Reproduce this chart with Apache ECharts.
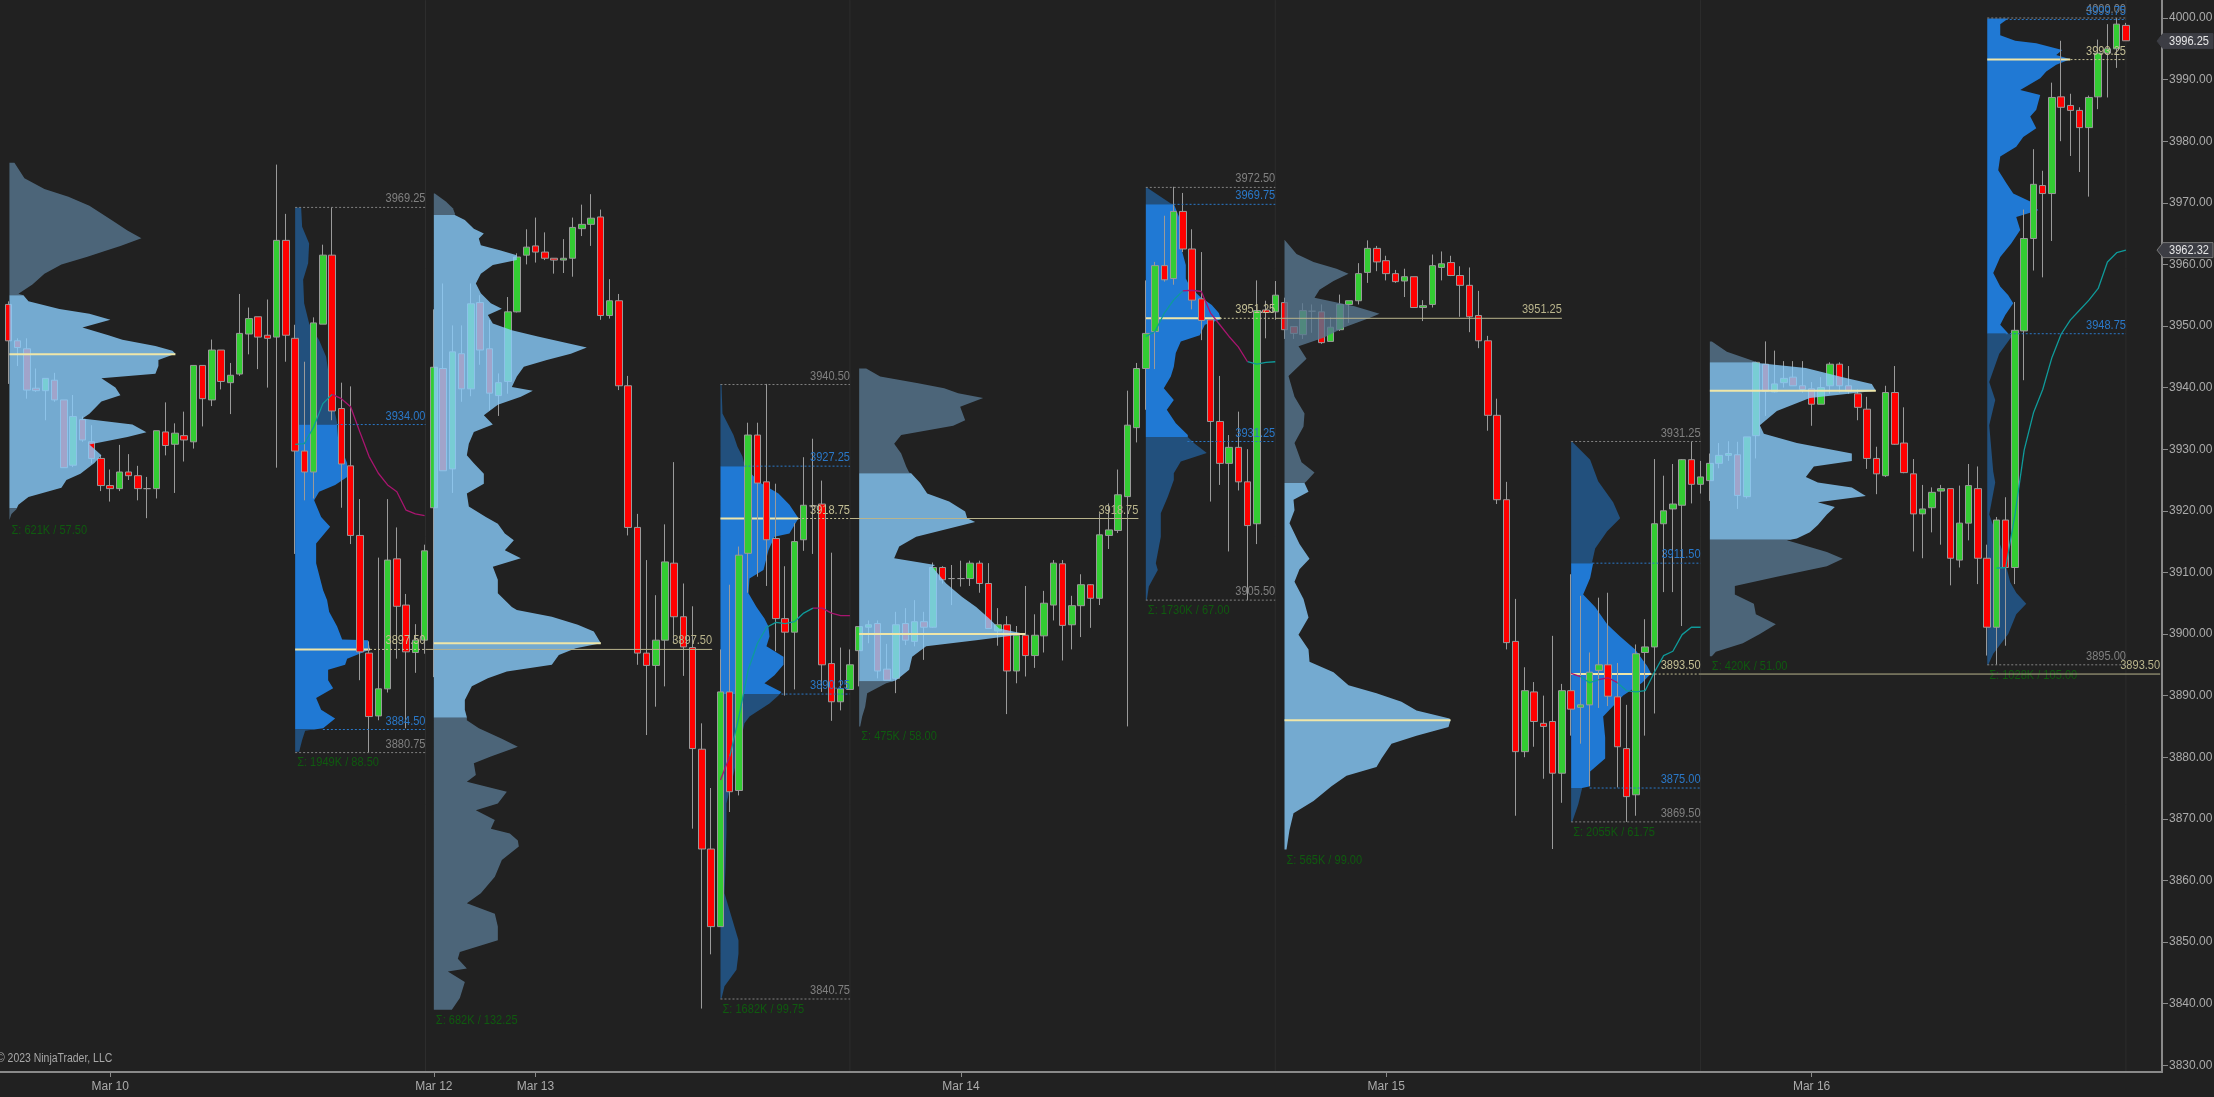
<!DOCTYPE html>
<html><head><meta charset="utf-8">
<style>html,body{margin:0;padding:0;background:#212121;overflow:hidden}#c{width:2214px;height:1097px}</style>
<script src="https://cdn.jsdelivr.net/npm/echarts@6/dist/echarts.min.js"></script>
</head><body><div id="c"></div>
<script>
// [open, close, low, high] one row per bar
const ohlc = [
[3953.5,3947.6,3940.6,3954],[3947.6,3946.5,3943.5,3948],[3946.3,3939.6,3938.2,3948],[3939.9,3939.5,3939.3,3943.1],[3939.5,3941.5,3934.7,3941.5],
[3941.2,3938,3937.7,3942.4],[3938,3927,3927,3938],[3927.4,3935.3,3927.1,3938.8],[3934.8,3931.5,3931.2,3935.3],[3931.2,3928.5,3927.7,3933.9],
[3928.5,3924.1,3923.2,3929],[3924.1,3923.6,3921.5,3926.7],[3923.6,3926.3,3923.2,3930.7],[3926.3,3925.7,3925,3929.2],[3925.7,3923.6,3921.7,3927.3],
[3923.6,3923.6,3918.8,3925.5],[3923.6,3933,3922,3933],[3932.8,3930.6,3929,3937.6],[3930.8,3932.6,3922.9,3934.2],[3932.2,3931.5,3928,3936.1],
[3931.2,3943.6,3930.1,3943.6],[3943.6,3938.2,3933.7,3943.6],[3938,3946.1,3937,3947.8],[3946.1,3941,3939.7,3946.1],[3940.8,3942,3935.7,3944],
[3942.2,3948.8,3941.9,3955.2],[3948.7,3951.2,3945.4,3953],[3951.5,3948.2,3943,3951.5],[3948.5,3948,3940,3954.3],[3948.2,3963.9,3927,3976.2],
[3963.9,3948.5,3944.2,3968.2],[3948,3929.7,3913,3950.2],[3929.7,3926.3,3921.7,3944.2],[3926.3,3950.5,3922,3951.4],[3950.3,3961.5,3950.3,3963.2],
[3961.5,3936.2,3934.7,3969.25],[3936.6,3927.6,3920.5,3940.8],[3927.3,3916,3914.6,3940.2],[3916,3897.1,3892.5,3921.9],[3896.9,3886.6,3880.75,3898.8],
[3886.7,3891.1,3886,3912.4],[3891.1,3912,3890.5,3921.9],[3912.2,3904.5,3896,3917.3],[3904.7,3897.1,3884.7,3906.5],[3897,3899,3893.7,3901.6],
[3899,3913.5,3896.8,3914.5],[3920.5,3943.3,3893,3952.7],[3943.1,3926.5,3926.5,3956.9],[3926.8,3945.8,3922.9,3950.1],[3945.5,3939.8,3937.7,3950.1],
[3939.8,3953.6,3938.6,3956.9],[3953.8,3946.1,3943.7,3955],[3946.3,3939.1,3936.3,3951],[3938.7,3940.8,3935.4,3942.3],[3941,3952.3,3939,3954.7],
[3952.3,3961.2,3952.2,3961.8],[3961.5,3962.8,3960,3965.7],[3963,3962,3960.3,3967.6],[3962,3961,3960.7,3965.2],[3961,3960.7,3958.5,3961],
[3960.7,3961,3958.6,3964.1],[3961,3966,3958,3967.6],[3965.8,3966.5,3964.6,3969.7],[3966.5,3967.5,3963,3971.4],[3967.7,3951.7,3951,3968.9],
[3951.7,3954.1,3951.2,3957.6],[3954.1,3940.3,3939.6,3955.2],[3940.3,3917.3,3916,3941.9],[3917.3,3896.9,3895,3919.5],[3896.9,3894.9,3883.6,3912],
[3894.9,3899,3888.2,3906.3],[3899,3911.7,3891.5,3917.8],[3911.5,3902.8,3898.5,3927.9],[3902.8,3897.9,3893.2,3908.2],[3897.8,3881.4,3868.4,3904.5],
[3881.3,3865.1,3839.2,3885.5],[3865.1,3852.5,3848,3875],[3852.5,3890.6,3852.5,3897.5],[3890.6,3874.4,3871.1,3908],[3874.6,3912.8,3873.8,3914.2],
[3913.1,3932.3,3906.7,3934.3],[3932.3,3924.5,3909.3,3934.3],[3924.7,3915.3,3907.8,3940.6],[3915.5,3902.5,3897.2,3924.4],[3902.5,3900.3,3890,3911],
[3900.3,3915,3891,3918],[3915.3,3920.9,3913.5,3928.7],[3920.8,3920.8,3913,3931.7],[3921.1,3895,3890.6,3924.9],[3895.2,3889,3885.9,3913.2],
[3889,3891.1,3887.6,3897.8],[3891,3895,3891,3897.5],[3897.3,3901.2,3891.5,3901.2],[3901.1,3901.5,3898.5,3902.2],[3901.7,3894,3892.8,3902.2],
[3894.3,3892.5,3892.5,3898.4],[3892.8,3901.5,3890.4,3903.6],[3901.7,3899,3898.2,3904.2],[3898.8,3902,3898,3905.5],[3902,3901.1,3895.8,3903.6],
[3901.1,3910.8,3901,3911.6],[3910.8,3908.8,3908.2,3911],[3909,3909,3904.7,3911.2],[3909,3909,3907.7,3911.9],[3909,3911.5,3907.8,3911.9],
[3911.5,3908.2,3906.7,3911.9],[3908.2,3900.9,3900.9,3911.5],[3900.5,3901.5,3898.1,3904.2],[3901.5,3894,3887,3902.9],[3894,3899.8,3892,3901.3],
[3899.8,3896.5,3893.1,3907.8],[3896.5,3899.8,3894.5,3903.2],[3899.7,3905,3897,3907],[3904.7,3911.5,3902.2,3912],[3911.4,3901.4,3895.7,3912],
[3901.5,3904.6,3897.5,3906.2],[3904.6,3908,3899.5,3909.7],[3908,3905.8,3901,3908.1],[3905.8,3916.1,3904.7,3919.6],[3916,3916.9,3913.8,3921.2],
[3916.8,3922.6,3916.4,3926.7],[3922.3,3933.9,3885,3939.5],[3933.5,3943.1,3931.1,3944],[3943.1,3948.8,3936.4,3957.4],[3949.1,3959.8,3943,3960.4],
[3959.8,3957.5,3957.2,3967.9],[3957.7,3968.6,3956.7,3972.6],[3968.6,3962.5,3962,3971.6],[3962.5,3954.2,3952.7,3965.7],[3954.4,3950.9,3947.7,3962],
[3951,3934.5,3921.5,3951],[3934.5,3927.7,3924.2,3941.9],[3927.7,3930.3,3913.4,3932.3],[3930.3,3924.7,3923.3,3936.1],[3924.7,3917.6,3905.5,3930],
[3917.9,3952.5,3914.6,3957.4],[3952.6,3952.2,3948,3954.1],[3952.3,3955,3951,3957.3],[3953.8,3949.4,3947.9,3954.6],[3949.9,3948.8,3947.9,3949.9],
[3948.6,3952.5,3947.9,3953.7],[3952.4,3952.4,3948.9,3953.5],[3952.3,3947.3,3947.1,3953.5],[3947.5,3949.8,3947.5,3951.4],[3949.4,3953.5,3949.2,3955.1],
[3953.5,3954.1,3950.5,3954.1],[3954.1,3958.5,3953.5,3960.2],[3958.7,3962.6,3957,3963.9],[3962.6,3960.4,3958.9,3963],[3960.6,3958.5,3957.4,3961.4],
[3958.5,3957.2,3957,3959.1],[3957.3,3958,3954.7,3959.3],[3958,3953,3953,3958],[3953,3953.3,3950.8,3954.2],[3953.5,3959.8,3953,3961.6],
[3959.5,3960.1,3957.4,3962.1],[3960.3,3958.2,3958.1,3961.4],[3958.2,3956.6,3951.5,3959.7],[3956.6,3951.5,3949,3959.5],[3951.7,3947.6,3946.4,3955.7],
[3947.6,3935.5,3933,3948.4],[3935.5,3921.8,3921.1,3938.2],[3921.8,3898.6,3897.5,3924.7],[3898.8,3880.9,3870.5,3905.7],[3880.9,3890.8,3880,3894.6],
[3890.6,3885.8,3881.7,3892.2],[3885.5,3885,3876.5,3890],[3885.8,3877.4,3865.1,3899.7],[3877.4,3890.8,3872.6,3891.9],[3890.8,3887.8,3883.5,3909.7],
[3888.1,3888.5,3882.2,3906.2],[3888.5,3893.8,3875.3,3897],[3894.1,3895,3888,3905.9],[3895,3889.9,3888.3,3906.7],[3889.8,3881.7,3875.1,3895.3],
[3881.4,3873.6,3869.5,3888.5],[3873.9,3896.8,3870.5,3898.3],[3897,3897.9,3883.5,3902.4],[3897.9,3917.9,3887.1,3928.4],[3917.9,3920,3906.8,3925.7],
[3920.3,3921.1,3906.8,3927.6],[3920.9,3928.3,3901.3,3928.4],[3928.3,3924.3,3921.2,3931.2],[3924.3,3925.5,3922.8,3928.1],[3924.9,3927.7,3921.6,3929.3],
[3927.7,3929,3926.9,3931],[3929,3929.3,3928.1,3931.3],[3929.1,3922.5,3920.3,3931.2],[3922.3,3932,3922,3932],[3932.2,3944.1,3928.5,3944.2],
[3943.8,3939.4,3935.4,3947.5],[3939.3,3940.6,3939.2,3946],[3940.8,3941.5,3940,3944.3],[3941.7,3940.3,3940.3,3944.3],[3940.3,3939.7,3939.2,3944.3],
[3939.8,3937.3,3933.8,3940.9],[3937.3,3940,3937.3,3941.7],[3940.3,3943.8,3939,3944.1],[3943.8,3940.3,3939.2,3944.1],[3940.3,3939.4,3939,3943.5],
[3939,3936.8,3934.7,3939.7],[3936.5,3928.5,3926.8,3938.5],[3928.5,3926,3922.7,3930.4],[3925.7,3939.2,3925.5,3940.3],[3939.2,3930.8,3930.7,3943.5],
[3931,3926.2,3926.1,3936.8],[3926,3919.5,3913.4,3928.4],[3919.5,3920.3,3912.3,3924.2],[3920.5,3923,3916.5,3923.8],[3923.2,3923.6,3914.5,3924.2],
[3923.6,3912.3,3907.9,3923.6],[3912,3918,3910.8,3924.1],[3918,3924.1,3915.2,3927.6],[3923.6,3912.3,3908.1,3927.2],[3912.3,3901.1,3896.5,3914.5],
[3901.1,3918.5,3895,3919],[3918.5,3910.8,3898.1,3922.2],[3910.8,3949.3,3908.1,3953.9],[3949.2,3964.2,3941.2,3968.9],[3964.2,3973,3959,3978.7],
[3972.8,3971.5,3957.9,3975.2],[3971.5,3987.1,3963.8,3989.5],[3987.2,3985.5,3980,3996.3],[3985.8,3985,3977.6,3987.7],[3985,3982.2,3975,3985.5],
[3982.2,3987.1,3971,3987.4],[3987.2,3994.3,3985.2,3996.5],[3994.3,3995,3987.1,3999],[3995,3999,3991.9,4000],[3998.8,3996.3,3996.3,3999.2]
];

const dateTicks = [11,46,57,103,149,195];
const dateLabels = ['Mar 10','Mar 12','Mar 13','Mar 14','Mar 15','Mar 16'];
const priceTicks = [3830,3840,3850,3860,3870,3880,3890,3900,3910,3920,3930,3940,3950,3960,3970,3980,3990,4000];
const sessionBreaks = [45.1,91,137,183,229];

// volume profiles: [price, volume]
const profA = [[3976.5,5],[3974,15],[3972.25,35],[3971,59],[3969.5,80],[3968.25,92],[3967,104],[3965.5,118],[3964.25,132],[3963,111],[3962.25,97],[3961.25,78],[3960,52],[3958.5,35],[3956.75,23],[3955.25,9],[3955,14],[3954,19],[3952.75,50],[3952,80],[3951,101],[3949.75,73],[3948.5,99],[3947.75,113],[3946.75,146],[3946,163],[3945.5,166],[3944.5,149],[3943.5,149],[3942.25,146],[3941.5,92],[3940,106],[3938.75,111],[3937.75,92],[3935.75,80],[3935,73],[3934,123],[3932.75,137],[3932,118],[3930.75,80],[3929,92],[3927.75,85],[3926,71],[3925,57],[3923.75,52],[3922.25,19],[3921,9],[3920.25,7],[3919.5,2],[3918.5,0]];
const profB = [[3969.25,6],[3966.1,7],[3963.4,14],[3960.2,13],[3957.5,8],[3953.7,9],[3950.4,14],[3947.7,24],[3945,31],[3942.8,33],[3939.6,38],[3935.8,40],[3934.3,42],[3934,42],[3931.5,43],[3927.7,52],[3925.5,52],[3924.2,40],[3923.1,24],[3921.7,19],[3919,26],[3917.4,35],[3914.7,21],[3911.5,21],[3907.1,28],[3905.5,32],[3903.6,34],[3901.2,42],[3899.1,47],[3899,73],[3897.5,75],[3896,52],[3895,50],[3894.2,33],[3892.5,33],[3891.2,38],[3889.6,21],[3887.7,26],[3886.3,40],[3884.7,28],[3884.3,10],[3882.8,7],[3880.9,4]];
const profC = [[3971.5,1],[3970.2,12],[3969.1,19],[3968.3,21],[3968,21],[3967.2,31],[3965.8,40],[3965,50],[3964.2,45],[3963.1,47],[3962.3,66],[3961.5,83],[3960.7,83],[3959.9,59],[3958.5,47],[3956.9,42],[3955.3,47],[3953.7,57],[3952.8,68],[3951.8,54],[3950.4,59],[3949.3,78],[3948.3,104],[3947.2,134],[3946.5,153],[3945.5,137],[3944.5,113],[3943.4,90],[3941.8,83],[3940.1,78],[3939.5,99],[3938.5,87],[3937.2,64],[3935.5,50],[3934,59],[3932.8,40],[3930.9,35],[3929,33],[3927.7,40],[3926,50],[3924.4,50],[3922.8,33],[3920.7,35],[3919,52],[3917.9,64],[3916.3,71],[3915.2,80],[3913.6,71],[3912.3,87],[3910.9,59],[3908.8,64],[3906.6,64],[3904.4,78],[3903.9,83],[3902.8,118],[3901.5,144],[3900.4,160],[3898.5,167],[3897.7,142],[3896.6,125],[3895,118],[3893.9,73],[3892.8,54],[3891.5,38],[3889.3,31],[3887.7,31],[3886.5,33],[3886,33],[3884.7,45],[3883,68],[3881.7,84],[3880.1,57],[3879,40],[3877.1,42],[3876,33],[3874.4,73],[3872.5,64],[3871.4,42],[3869.8,61],[3868.4,57],[3867.6,76],[3866.5,84],[3865.5,85],[3863.3,68],[3860.6,61],[3857.9,47],[3856.3,33],[3854.6,61],[3852.5,64],[3850.3,64],[3848.4,26],[3847.3,24],[3845.7,33],[3845.2,14],[3843.5,31],[3840.9,26],[3839,18]];
const profD = [[3940.6,1],[3935.8,2],[3934.2,7],[3932.3,13],[3930.4,17],[3928.8,22],[3927.5,24],[3927.3,24],[3924.7,38],[3922.8,58],[3921,69],[3918.8,78],[3916.3,69],[3915.8,54],[3913.6,48],[3910.4,43],[3909,29],[3906.6,28],[3904.4,36],[3902.5,44],[3901.2,48],[3899.6,49],[3898,46],[3896.3,63],[3895,63],[3893.3,54],[3892,44],[3890.6,61],[3890,58],[3888.7,49],[3886.6,29],[3885.5,24],[3883.3,21],[3877.9,14],[3872.5,6],[3868,6],[3862,5],[3857.9,4],[3854.1,11],[3850.3,18],[3848.1,18],[3845.5,16],[3842.8,4],[3840.8,1]];
const profE = [[3943.1,7],[3941.8,21],[3940.7,59],[3939.9,85],[3939.1,99],[3938.3,124],[3936.9,101],[3934.7,106],[3933.8,94],[3932.3,42],[3930.9,35],[3929.3,42],[3927.2,47],[3926.2,50],[3926.1,52],[3924.5,61],[3922.8,68],[3921.5,90],[3919.9,106],[3918.8,108],[3918.2,116],[3917.2,92],[3915.8,57],[3914.2,40],[3912.3,35],[3911.2,76],[3910.9,73],[3908.2,87],[3906,103],[3904.4,117],[3902.5,130],[3900.9,140],[3900,166],[3899,117],[3898,67],[3896.3,53],[3894.2,50],[3892.5,37],[3892,27],[3890.4,8],[3888.2,6],[3886.6,3],[3885,1]];
const profF = [[3972.5,1],[3971.5,10],[3969.9,25],[3969.8,28],[3967.8,33],[3965.6,35],[3962.3,36],[3959.9,40],[3957.7,40],[3956.4,44],[3954.8,54],[3953.4,66],[3952.1,73],[3951.1,75],[3950.2,59],[3948.5,54],[3947.5,35],[3945.6,30],[3943.4,28],[3941.8,25],[3939.9,18],[3938,28],[3936.4,21],[3934.2,30],[3932.3,42],[3932,42],[3930.9,49],[3929.4,61],[3928,35],[3926.1,28],[3925,28],[3922.3,22],[3919.6,15],[3915.8,15],[3911.5,10],[3910.4,12],[3907.7,3],[3905.5,1]];
const profG = [[3964,0],[3961.7,12],[3960.4,29],[3959.3,52],[3958.5,64],[3957.3,49],[3955.9,35],[3954.6,30],[3953.2,70],[3952,95],[3951.3,85],[3949.8,60],[3948.1,39],[3946.7,14],[3944.7,22],[3941.9,4],[3938.5,10],[3935.8,20],[3933.7,19],[3931,10],[3927.9,17],[3926.2,30],[3924.8,22],[3924.5,20],[3923.1,24],[3921.8,9],[3920.1,10],[3918,5],[3914.6,15],[3912.2,25],[3910.5,15],[3908.5,10],[3905.7,19],[3902.7,24],[3899.9,14],[3897.5,24],[3895.5,25],[3893.8,49],[3891.7,64],[3890.4,92],[3889,117],[3887.6,132],[3886.3,165],[3886,166],[3884.9,164],[3883.5,132],[3882.2,107],[3879.8,97],[3878.4,92],[3877,62],[3875.3,47],[3872.9,29],[3870.9,9],[3868.2,5],[3865,2]];
const profH = [[3931.2,1],[3928.3,19],[3924.8,27],[3921.4,42],[3918.8,49],[3916.7,36],[3913.9,24],[3911.7,21],[3911.5,22],[3909.1,19],[3906.4,12],[3904.4,24],[3901.6,36],[3899.6,49],[3897.5,64],[3894.8,76],[3893.6,80],[3892.1,71],[3890,52],[3886.6,32],[3883.2,34],[3879.8,34],[3877.7,19],[3875.3,19],[3875,11],[3872.3,7],[3869.5,1]];
const profI = [[3947.5,2],[3945.8,17],[3944.2,46],[3944,48],[3943.2,96],[3941.7,133],[3940.6,162],[3939.5,166],[3938.3,100],[3936.2,67],[3933.9,50],[3932.5,54],[3931,87],[3929.3,142],[3928.1,142],[3927.2,104],[3925.5,96],[3924.6,108],[3923.8,142],[3922.4,156],[3921.4,108],[3920.6,125],[3919.4,117],[3917.7,108],[3916.5,100],[3915.5,87],[3915.2,77],[3913.3,117],[3912.2,133],[3911,117],[3909.3,67],[3907.8,25],[3906.4,25],[3904.9,44],[3903.2,46],[3901.6,66],[3900,50],[3898.5,33],[3897.1,6],[3896.4,2]];
const profJ = [[3999.9,21],[3999,13],[3997.2,13],[3996.3,28],[3995.9,49],[3994.8,75],[3994,69],[3993.3,83],[3992.4,69],[3991.3,59],[3990.2,53],[3988.3,33],[3987.5,53],[3985.1,49],[3984,43],[3982.1,49],[3980.7,36],[3979.1,29],[3977.5,13],[3975.3,11],[3973.2,19],[3971.5,26],[3970.2,43],[3968.8,51],[3967.7,29],[3965.6,33],[3963.4,24],[3961.2,13],[3958.6,6],[3956.4,13],[3955,21],[3953.7,26],[3951.8,18],[3950.2,13],[3948.8,21],[3948.4,25],[3945.5,12],[3940.9,2],[3938,8],[3933.9,2],[3926.4,6],[3924.6,8],[3919.4,2],[3913.6,15],[3908.4,23],[3906.7,29],[3904.9,39],[3903.2,29],[3900,21],[3896.8,6],[3895,1]];

const profileData = [profA,profB,profC,profD,profE,profF,profG,profH,profI,profJ];
const profileStart = [0.1,31,46,77,92,123,138,169,184,214];
const profileVAH = [3955,3934,3968,3927.25,3926.1,3969.75,3924.5,3911.5,3944.1,4001];
const profileVAL = [3920.4,3884.5,3886.4,3890.25,3892.3,3932,3860,3875,3915.3,3948.75];
const profilePOC = [3945.4,3897.5,3898.5,3918.75,3900,3951.25,3886,3893.5,3939.5,3993.25];
const profileBlue = [false,true,false,true,false,true,false,true,false,true];
const profileNotes = ['Σ: 621K / 57.50','Σ: 1949K / 88.50','Σ: 682K / 132.25','Σ: 1682K / 99.75','Σ: 475K / 58.00','Σ: 1730K / 67.00','Σ: 565K / 99.00','Σ: 2055K / 61.75','Σ: 420K / 51.00','Σ: 1028K / 105.00'];

// price levels: [price, fromBar, toBar, kind, label]
const priceLevels = [
[3969.25,31,45.1,'grey','3969.25'],[3934,35.5,45.1,'blue','3934.00'],[3884.5,34,45.1,'blue','3884.50'],[3880.75,31,45.1,'grey','3880.75'],
[3897.5,39.1,45.1,'pocDash','3897.50'],[3897.5,45.1,76.1,'poc','3897.50'],
[3940.5,77,91,'grey','3940.50'],[3927.25,79.6,91,'blue','3927.25'],[3890.25,83.6,91,'blue','3890.25'],[3840.75,77,91,'grey','3840.75'],
[3918.75,85.4,91,'pocDash','3918.75'],[3918.75,91,122.2,'poc','3918.75'],
[3972.5,123,137,'grey','3972.50'],[3969.75,126,137,'blue','3969.75'],[3931.25,127.5,137,'blue','3931.25'],[3905.5,123,137,'grey','3905.50'],
[3951.25,131,137,'pocDash','3951.25'],[3951.25,137,168,'poc','3951.25'],
[3931.25,169,183,'grey','3931.25'],[3911.5,171.3,183,'blue','3911.50'],[3875,171,183,'blue','3875.00'],[3869.5,169,183,'grey','3869.50'],
[3893.5,177.6,183,'pocDash','3893.50'],[3893.5,183,232.7,'poc','3893.50'],
[4000,214,229,'grey','4000.00'],[3999.75,216,229,'blue','3999.75'],[3948.75,216,229,'blue','3948.75'],[3895,214,229,'grey','3895.00'],
[3993.25,223,229,'pocDash','3993.25']
];

// moving line pieces: [bar, price]
const tealPieces = [
[[31,3930.8],[32,3930.9],[33,3933.6],[34,3937.4],[35,3938.9]],
[[78,3880.1],[79,3886.6],[80,3894.2],[81,3898.5],[82,3901.1],[83,3901.9],[84,3901.7],[85,3902],[86,3903.4],[87,3904.2]],
[[123,3948.3],[124,3949.1],[125,3952.1],[126,3954.2],[127,3955.7]],
[[134,3944.2],[135,3943.8],[136,3944.1],[137,3944.2]],
[[170,3893.1],[171,3892.1],[172,3892.6]],
[[174,3892.1],[175,3890.8],[176,3890.6],[177,3890.8],[178,3893.8],[179,3896.5],[180,3897.2],[181,3899.9],[182,3901.1],[183,3901.1]],
[[215,3910.7],[216,3910.8],[217,3919.4],[218,3929.9],[219,3935.9],[220,3939.7],[221,3944.9],[222,3948.7],[223,3951],[224,3952.6],[225,3954.2],[226,3956.1],[227,3960.4],[228,3961.9],[229,3962.3]]
];
const magentaPieces = [
[[35,3938.9],[36,3938.2],[37,3936.9],[38,3932.8],[39,3928.8],[40,3926.1],[41,3924.2],[42,3923.1],[43,3920.1],[44,3919.5],[45,3919.2]],
[[77,3876.3],[78,3880.1]],
[[87,3904.2],[88,3904.2],[89,3903.4],[90,3903],[91,3903]],
[[127,3955.7],[128,3955.8],[129,3955.6],[130,3952.1],[131,3950.2],[132,3948.3],[133,3946.6],[134,3944.2]],
[[169,3893.6],[170,3893.1]],
[[172,3892.6],[173,3892.9],[174,3892.1]]
];

const priceTags = [[3996.25,'3996.25'],[3962.32,'3962.32']];

const FONT = '"Liberation Sans",Arial,sans-serif';
const levelColors = {grey:'#808080',blue:'#2a78c8',pocDash:'#c4bf95',poc:'#b9b48c'};
const barsMin = -0.919, barsMax = 232.9, volScale = 1/9.247;

// a text squeezed sideways, as the reference's narrow labels are
function narrow(text,x,y,fill,align,valign){
  return {type:'text',x:x,y:y,scaleX:0.85,scaleY:1,
    style:{text:text,x:0,y:0,fill:fill,font:'13px '+FONT,textAlign:align,textVerticalAlign:valign}};
}
function interp(rows, p){
  for(let k=0;k<rows.length-1;k++){
    const a=rows[k],b=rows[k+1];
    if(a[0]>=p&&b[0]<=p){const t=a[0]===b[0]?0:(a[0]-p)/(a[0]-b[0]);return a[1]+(b[1]-a[1])*t;}
  }
  return 0;
}
function band(rows,hi,lo){
  const top=Math.min(hi,rows[0][0]),bot=Math.max(lo,rows[rows.length-1][0]);
  if(top<=bot)return null;
  const r=[[top,interp(rows,top)]];
  rows.forEach(x=>{if(x[0]<top&&x[0]>bot)r.push(x);});
  r.push([bot,interp(rows,bot)]);
  return r;
}
function profileSeries(i){
  const blue=profileBlue[i], rows=profileData[i], start=profileStart[i];
  const dark=blue?'rgb(34,80,125)':'rgba(88,119,144,0.8)';
  const light=blue?'rgb(32,121,212)':'rgba(138,205,253,0.8)';
  const pocVol=Math.max.apply(null,rows.map(r=>r[1]));
  return {type:'custom',name:'profile'+i,silent:true,z:blue?1:4,animation:false,
    data:[[start,rows[0][0]]],
    renderItem:function(p,api){
      const maxP=rows[0][0],minP=rows[rows.length-1][0];
      const parts=[[maxP+1,profileVAH[i],dark],[profileVAH[i],profileVAL[i],light],[profileVAL[i],minP-1,dark]];
      const children=[];
      parts.forEach(s=>{
        const r=band(rows,s[0],s[1]); if(!r)return;
        const pts=[api.coord([start,r[0][0]])];
        r.forEach(q=>pts.push(api.coord([start+q[1]*volScale,q[0]])));
        pts.push(api.coord([start,r[r.length-1][0]]));
        children.push({type:'polygon',shape:{points:pts},style:{fill:s[2]}});
      });
      const a=api.coord([start,profilePOC[i]]),b=api.coord([start+pocVol*volScale,profilePOC[i]]);
      children.push({type:'line',shape:{x1:a[0],y1:a[1],x2:b[0],y2:b[1]},style:{stroke:'#efe6a8',lineWidth:2}});
      const n=api.coord([start,minP]);
      children.push(narrow(profileNotes[i],n[0]+2,n[1]+4,'#0f5a0f','left','top'));
      return {type:'group',children:children};
    }};
}
const series=[];
series.push({type:'custom',name:'sessions',silent:true,z:0,animation:false,
  data:sessionBreaks.map(x=>[x,3900]),
  renderItem:function(p,api){
    const x=api.value(0),a=api.coord([x,3828.9]),b=api.coord([x,4002.9]);
    return {type:'line',shape:{x1:a[0],y1:a[1],x2:b[0],y2:b[1]},style:{stroke:'#2d2d2d',lineWidth:1}};
  }});
profileData.forEach((_,i)=>series.push(profileSeries(i)));
series.push({type:'candlestick',name:'price',z:2,animation:false,silent:true,barWidth:7,
  data:ohlc.map((r,i)=>[i,r[0],r[1],r[2],r[3]]),
  encode:{x:0,y:[1,2,3,4]},
  itemStyle:{color:'#33cc33',color0:'#ff0000',borderColor:'#9a9a9a',borderColor0:'#9a9a9a',borderColorDoji:'#9a9a9a',borderWidth:1}});
tealPieces.forEach(d=>series.push({type:'line',data:d,z:3,showSymbol:false,silent:true,animation:false,lineStyle:{color:'#0f9a9a',width:1.3}}));
magentaPieces.forEach(d=>series.push({type:'line',data:d,z:3,showSymbol:false,silent:true,animation:false,lineStyle:{color:'#a8156f',width:1.3}}));
series.push({type:'custom',name:'levels',silent:true,z:5,animation:false,
  data:priceLevels.map(l=>[l[1],l[0]]),
  renderItem:function(p,api){
    const l=priceLevels[p.dataIndex],a=api.coord([l[1],l[0]]),b=api.coord([l[2],l[0]]);
    const col=levelColors[l[3]],dash=l[3]!=='poc';
    return {type:'group',children:[
      {type:'line',shape:{x1:a[0],y1:a[1],x2:b[0],y2:b[1]},style:{stroke:col,lineWidth:1,lineDash:dash?[2,2]:null}},
      narrow(l[4],b[0],a[1]-2,col,'right','bottom')
    ]};
  }});
series.push({type:'custom',name:'tags',silent:true,z:6,clip:false,animation:false,
  data:priceTags.map(t=>[barsMax,t[0]]),
  renderItem:function(p,api){
    const t=priceTags[p.dataIndex],c=api.coord([barsMax,t[0]]),x=c[0],y=c[1];
    return {type:'group',children:[
      {type:'polygon',shape:{points:[[x-5,y],[x+1,y-7.5],[x+51,y-7.5],[x+51,y+7.5],[x+1,y+7.5]]},style:{fill:'#3c3d44',stroke:p.dataIndex?'#777':'#3c3d44',lineWidth:1}},
      narrow(t[1],x+7,y,'#e6e6e6','left','middle')
    ]};
  }});

const chart=echarts.init(document.getElementById('c'),null,{renderer:'canvas'});
chart.setOption({
  backgroundColor:'#212121',animation:false,
  grid:{left:0,right:52,top:0,bottom:25,containLabel:false,outerBoundsMode:'none'},
  tooltip:{show:false},
  xAxis:{type:'value',min:barsMin,max:barsMax,splitLine:{show:false},
    axisLine:{onZero:false,lineStyle:{color:'#8a8a8a',width:2}},
    axisTick:{length:5,lineStyle:{color:'#8a8a8a'},customValues:dateTicks},
    axisLabel:{customValues:dateTicks,color:'#ababab',fontFamily:FONT,fontSize:12,margin:9,
      formatter:v=>dateLabels[dateTicks.indexOf(Math.round(v))]||''}},
  yAxis:{type:'value',position:'right',min:3828.9,max:4002.92,scale:true,splitLine:{show:false},
    axisLine:{show:true,onZero:false,lineStyle:{color:'#8a8a8a',width:2}},
    axisTick:{show:true,length:6,lineStyle:{color:'#8a8a8a'},customValues:priceTicks},
    axisLabel:{customValues:priceTicks,color:'#ababab',fontFamily:FONT,fontSize:12,margin:7,formatter:v=>v.toFixed(2)}},
  graphic:[{type:'text',left:-3,top:1053,silent:true,scaleX:0.87,style:{text:'© 2023 NinjaTrader, LLC',fill:'#a8a8a8',font:'12px '+FONT}}],
  series:series
});
</script></body></html>
